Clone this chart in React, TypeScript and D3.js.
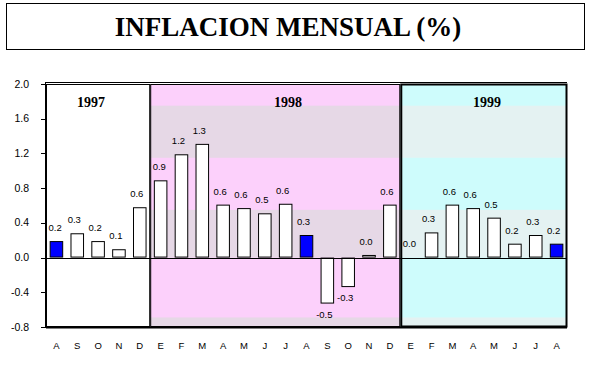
import React from "react";
import * as d3 from "d3";

const months = ["A","S","O","N","D","E","F","M","A","M","J","J","A","S","O","N","D","E","F","M","A","M","J","J","A"];
const values = [0.19,0.28,0.19,0.096,0.58, 0.89,1.19,1.31,0.61,0.57,0.51,0.62,0.26,-0.53,-0.34,0.03,0.61, 0.01,0.29,0.61,0.57,0.46,0.16,0.26,0.16];
const highlighted = [0, 12, 24];
const years = ["1997","1998","1999"];
const yearCounts = [5, 12, 8];
const yTicks = [2.0, 1.6, 1.2, 0.8, 0.4, 0.0, -0.4, -0.8];
const grayBands: [number, number][] = [[1.75, 1.15], [0.55, 0.0], [-0.69, -0.8]];
const title = "INFLACION MENSUAL (%)";

export default function App() {
  const W = 591, H = 365;
  const left = 46, right = 567, top = 84, bottom = 327;
  const x = d3.scaleBand<number>().domain(months.map((_, i) => i)).range([left, right]).paddingInner(0.35).paddingOuter(0.175);
  const y = d3.scaleLinear().domain([-0.8, 2.0]).range([bottom, top]);
  const step = x.step();
  const fmt = (v: number) => v.toFixed(1);
  const sans = "'Liberation Sans', Arial, sans-serif";
  const serif = "'Liberation Serif', 'Times New Roman', serif";

  let acc = 0;
  const regions = years.map((yr, i) => {
    const x0 = left + acc * step;
    acc += yearCounts[i];
    const x1 = left + acc * step;
    return { yr, x0, x1, i };
  });
  const regionFill = ["#ffffff", "#fcd0fb", "#cefcfc"];
  const bandFill = ["#ffffff", "#e6d8e6", "#e4f2f2"];

  return (
    <svg width={W} height={H} style={{ position: "absolute", left: 0, top: 0, background: "#fff" }}>
      <rect x={6.5} y={3.5} width={578} height={46} fill="#fff" stroke="#000" strokeWidth={1} />
      <text x={288} y={36} textAnchor="middle" fontFamily={serif} fontWeight="bold" fontSize={27}>{title}</text>

      {regions.map(r => (
        <g key={r.yr}>
          <rect x={r.x0} y={top} width={r.x1 - r.x0} height={bottom - top} fill={regionFill[r.i]} />
          {r.i > 0 && grayBands.map((b, j) => (
            <rect key={j} x={r.x0} y={y(b[0])} width={r.x1 - r.x0} height={y(b[1]) - y(b[0])} fill={bandFill[r.i]} />
          ))}
        </g>
      ))}

      {months.map((m, i) => {
        const v = values[i];
        const bx = x(i)!;
        const y0 = y(Math.max(0, v));
        const y1 = y(Math.min(0, v));
        return (
          <rect key={i} x={bx + 0.5} y={y0 + 0.5} width={x.bandwidth() - 1} height={Math.max(0, y1 - y0 - 1)}
            fill={highlighted.includes(i) ? "#0000ff" : "#ffffff"} stroke="#000" strokeWidth={1} />
        );
      })}

      {regions.map(r => (
        <rect key={"b" + r.yr} x={r.x0 + (r.i === 2 ? 1 : 0.5)} y={top + 0.5} width={r.x1 - r.x0 - (r.i === 2 ? 1.5 : 1)} height={bottom - top - 1}
          fill="none" stroke="#000" strokeWidth={r.i === 2 ? 2 : 1} />
      ))}
      <line x1={left} x2={right} y1={top - 1.5} y2={top - 1.5} stroke="#000" strokeWidth={1} />
      <line x1={left} x2={right} y1={Math.round(y(0)) + 0.5} y2={Math.round(y(0)) + 0.5} stroke="#000" strokeWidth={1} />
      <line x1={left - 0.5} x2={left - 0.5} y1={top - 2} y2={bottom} stroke="#000" strokeWidth={1} />
      <line x1={left} x2={right} y1={bottom + 0.5} y2={bottom + 0.5} stroke="#000" strokeWidth={2} />

      {yTicks.map(t => (
        <g key={t}>
          <line x1={left - 5} x2={left} y1={Math.round(y(t)) + 0.5} y2={Math.round(y(t)) + 0.5} stroke="#000" />
          <text x={29} y={y(t) + 3.5} textAnchor="end" fontFamily={sans} fontSize={10.5}>{fmt(t)}</text>
        </g>
      ))}

      {months.map((m, i) => {
        const v = values[i];
        const label = fmt(v);
        const reg = regions.find(r => x(i)! >= r.x0 && x(i)! < r.x1)!;
        let cx = x(i)! + x.bandwidth() / 2 - 3;
        const half = label.length * 2.7;
        cx = Math.max(cx, reg.x0 + half + 1);
        const ty = v >= 0 ? y(v) - 10 : y(v) + 14;
        return (
          <text key={"l" + i} x={cx} y={ty} textAnchor="middle" fontFamily={sans} fontSize={9.5}>{label}</text>
        );
      })}

      {regions.map(r => (
        <text key={"y" + r.yr} x={r.i === 0 ? 91 : r.i === 1 ? 288 : 487} y={107} textAnchor="middle" fontFamily={serif} fontWeight="bold" fontSize={14}>{r.yr}</text>
      ))}

      {months.map((m, i) => (
        <text key={"m" + i} x={x(i)! + x.bandwidth() / 2} y={349} textAnchor="middle" fontFamily={sans} fontSize={9.5}>{m}</text>
      ))}
    </svg>
  );
}
